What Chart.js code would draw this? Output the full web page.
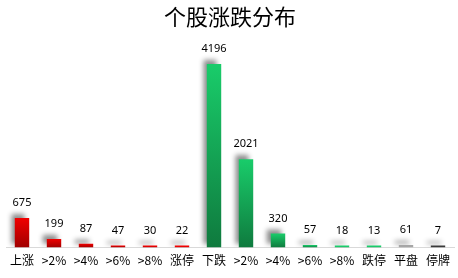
<!DOCTYPE html>
<html>
<head>
<meta charset="utf-8">
<script src="https://cdn.jsdelivr.net/npm/chart.js@4"></script>
<style>
  html, body { margin: 0; padding: 0; background: #fff; }
  #wrap { width: 458px; height: 278px; }
</style>
</head>
<body>
<div id="wrap"><canvas id="dist"></canvas></div>
<script>
const categories = ["上涨", ">2%", ">4%", ">6%", ">8%", "涨停", "下跌", ">2%", ">4%", ">6%", ">8%", "跌停", "平盘", "停牌"];
const counts = [675, 199, 87, 47, 30, 22, 4196, 2021, 320, 57, 18, 13, 61, 7];
const kinds = ["up", "up", "up", "up", "up", "up", "down", "down", "down", "down", "down", "down", "flat", "halt"];

// gradient per bar: bright on top, darker at the base
function barFill(context) {
  const chart = context.chart;
  const kind = kinds[context.dataIndex];
  if (kind === "flat") return "#a6a6a6";
  if (kind === "halt") return "#3a3a3a";
  const y = chart.scales.y;
  if (!y || !chart.chartArea) return kind === "up" ? "#e00000" : "#16a050";
  const top = y.getPixelForValue(counts[context.dataIndex]);
  const base = y.getPixelForValue(0);
  const g = chart.ctx.createLinearGradient(0, top, 0, Math.max(base, top + 1));
  if (kind === "up") {
    g.addColorStop(0, "#f00000");
    g.addColorStop(1, "#a00000");
  } else {
    g.addColorStop(0, "#19cc6a");
    g.addColorStop(1, "#0f7a3e");
  }
  return g;
}

// grey drop shadow up-left of each bar
const shadowPlugin = {
  id: "shadow",
  beforeDatasetsDraw(chart) {
    const ctx = chart.ctx;
    ctx.save();
    ctx.shadowColor = "rgba(0,0,0,0.45)";
    ctx.shadowBlur = 5;
    ctx.shadowOffsetX = -4;
    ctx.shadowOffsetY = -4;
  },
  afterDatasetsDraw(chart) {
    chart.ctx.restore();
  }
};

const valueLabels = {
  id: "valueLabels",
  afterDatasetsDraw(chart) {
    const ctx = chart.ctx;
    const meta = chart.getDatasetMeta(0);
    ctx.save();
    ctx.fillStyle = "#000";
    ctx.font = "11px 'Noto Sans', sans-serif";
    ctx.textAlign = "center";
    ctx.textBaseline = "middle";
    meta.data.forEach((bar, i) => {
      ctx.fillText(String(counts[i]), bar.x, bar.y - 15);
    });
    ctx.restore();
  }
};

new Chart(document.getElementById("dist"), {
  type: "bar",
  data: {
    labels: categories,
    datasets: [{
      data: counts,
      backgroundColor: barFill,
      barPercentage: 0.45,
      categoryPercentage: 1,
      minBarLength: 2
    }]
  },
  options: {
    responsive: true,
    maintainAspectRatio: false,
    animation: false,
    layout: { padding: { left: 6, right: 4, top: 0, bottom: 4 } },
    plugins: {
      legend: { display: false },
      tooltip: { enabled: false },
      title: {
        display: true,
        text: "个股涨跌分布",
        color: "#000",
        font: { family: "'Noto Sans CJK SC', serif", size: 22, weight: "normal" },
        padding: { top: 3, bottom: 6 }
      }
    },
    scales: {
      x: {
        grid: { display: false, drawTicks: false },
        border: { color: "#d9d9d9" },
        ticks: { color: "#000", font: { family: "'Noto Sans CJK SC', sans-serif", size: 12 }, padding: 6, autoSkip: false, maxRotation: 0 }
      },
      y: {
        display: false,
        min: 0,
        max: 4850
      }
    }
  },
  plugins: [shadowPlugin, valueLabels]
});
</script>
</body>
</html>
